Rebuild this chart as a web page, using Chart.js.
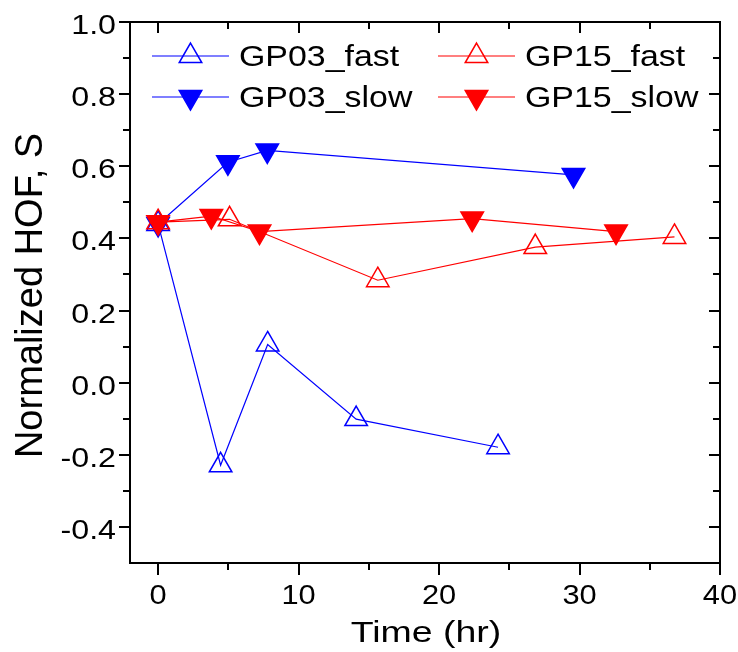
<!DOCTYPE html>
<html>
<head>
<meta charset="utf-8">
<script src="https://cdn.jsdelivr.net/npm/chart.js@4"></script>
<style>
  html, body { margin: 0; padding: 0; background: #fff; }
  #wrap { width: 738px; height: 652px; }
</style>
</head>
<body>
<div id="wrap"><canvas id="hof-chart" width="738" height="652"></canvas></div>
<script>
// time (hr) and normalized HOF for each run
var gp03FastT = [0, 4.45, 7.8, 14.1, 24.2];
var gp03FastS = [0.44, -0.229, 0.106, -0.101, -0.179];
var gp03SlowT = [0, 4.97, 7.77, 29.57];
var gp03SlowS = [0.44, 0.611, 0.644, 0.576];
var gp15FastT = [0, 5.09, 15.64, 26.85, 36.76];
var gp15FastS = [0.445, 0.453, 0.284, 0.376, 0.404];
var gp15SlowT = [0, 3.79, 7.22, 22.36, 32.6];
var gp15SlowS = [0.445, 0.462, 0.419, 0.455, 0.419];

var xTicks = [0, 10, 20, 30, 40];
var xMinor = [5, 15, 25, 35];
var yTicks = [-0.4, -0.2, 0.0, 0.2, 0.4, 0.6, 0.8, 1.0];
var yMinor = [-0.3, -0.1, 0.1, 0.3, 0.5, 0.7, 0.9];

var BLUE = '#0000ff';
var RED = '#ff0000';
var FONT = '"Liberation Sans", Arial, sans-serif';

function pts(xs, ys) {
  return xs.map(function (x, i) { return { x: x, y: ys[i] }; });
}

// order: lower number is painted later, so the red runs sit on top
function series(label, xs, ys, color, filled, order) {
  return {
    label: label,
    data: pts(xs, ys),
    order: order,
    borderColor: color,
    borderWidth: 1.2,
    pointStyle: 'triangle',
    pointRadius: 13,
    pointHoverRadius: 13,
    pointBorderWidth: 1.5,
    pointBorderColor: color,
    pointBackgroundColor: filled ? color : 'rgba(0,0,0,0)',
    pointRotation: filled ? 180 : 0,
    tension: 0,
    fill: false
  };
}

// text stretched horizontally by sx
function drawText(ctx, str, x, y, size, align, sx) {
  ctx.save();
  ctx.translate(x, y);
  ctx.scale(sx, 1);
  ctx.font = size + 'px ' + FONT;
  ctx.textAlign = align;
  ctx.textBaseline = 'alphabetic';
  ctx.fillStyle = '#000';
  ctx.fillText(str, 0, 0);
  ctx.restore();
}

var frameAndLegend = {
  id: 'frameAndLegend',
  afterDraw: function (chart) {
    var ctx = chart.ctx;
    var a = chart.chartArea;
    var xs = chart.scales.x, ys = chart.scales.y;

    ctx.save();
    ctx.strokeStyle = '#000';
    ctx.lineWidth = 2;
    ctx.strokeRect(a.left, a.top, a.right - a.left, a.bottom - a.top);

    ctx.beginPath();
    // bottom/left ticks point out, top/right ticks point in
    xTicks.forEach(function (v) {
      var px = Math.round(xs.getPixelForValue(v));
      ctx.moveTo(px, a.bottom); ctx.lineTo(px, a.bottom + 12);
      ctx.moveTo(px, a.top); ctx.lineTo(px, a.top + 11);
    });
    xMinor.forEach(function (v) {
      var px = Math.round(xs.getPixelForValue(v));
      ctx.moveTo(px, a.bottom); ctx.lineTo(px, a.bottom + 7);
      ctx.moveTo(px, a.top); ctx.lineTo(px, a.top + 7);
    });
    yTicks.forEach(function (v) {
      var py = Math.round(ys.getPixelForValue(v));
      ctx.moveTo(a.left, py); ctx.lineTo(a.left - 11, py);
      ctx.moveTo(a.right, py); ctx.lineTo(a.right - 11, py);
    });
    yMinor.forEach(function (v) {
      var py = Math.round(ys.getPixelForValue(v));
      ctx.moveTo(a.left, py); ctx.lineTo(a.left - 7, py);
      ctx.moveTo(a.right, py); ctx.lineTo(a.right - 7, py);
    });
    ctx.stroke();
    ctx.restore();

    // tick labels
    xTicks.forEach(function (v) {
      drawText(ctx, String(v), xs.getPixelForValue(v), 604, 28, 'center', 1.1);
    });
    yTicks.forEach(function (v) {
      drawText(ctx, v.toFixed(1), a.left - 14, ys.getPixelForValue(v) + 12, 28, 'right', 1.15);
    });

    // axis titles
    drawText(ctx, 'Time (hr)', (a.left + a.right) / 2 + 1, 642, 30, 'center', 1.25);
    ctx.save();
    ctx.translate(42, (a.top + a.bottom) / 2 + 3);
    ctx.rotate(-Math.PI / 2);
    ctx.font = '38px ' + FONT;
    ctx.textAlign = 'center';
    ctx.fillStyle = '#000';
    ctx.fillText('Normalized HOF, S', 0, 0);
    ctx.restore();

    // legend: two columns, line with marker in the middle
    var slots = [
      { ds: 0, x: 152, y: 56 },
      { ds: 1, x: 152, y: 97 },
      { ds: 2, x: 438, y: 56 },
      { ds: 3, x: 438, y: 97 }
    ];
    slots.forEach(function (s) {
      var d = chart.data.datasets[s.ds];
      ctx.save();
      ctx.strokeStyle = d.borderColor;
      ctx.lineWidth = d.borderWidth;
      ctx.beginPath();
      ctx.moveTo(s.x, s.y); ctx.lineTo(s.x + 77, s.y);
      ctx.stroke();
      ctx.fillStyle = d.pointBackgroundColor;
      ctx.strokeStyle = d.pointBorderColor;
      ctx.lineWidth = d.pointBorderWidth;
      Chart.helpers.drawPoint(ctx, {
        pointStyle: 'triangle',
        rotation: d.pointRotation,
        radius: d.pointRadius,
        borderWidth: d.pointBorderWidth
      }, s.x + 38.5, s.y);
      ctx.restore();
      drawText(ctx, d.label, s.x + 87, s.y + 9.5, 30, 'left', 1.13);
    });
  }
};

new Chart(document.getElementById('hof-chart').getContext('2d'), {
  type: 'line',
  data: {
    datasets: [
      series('GP03_fast', gp03FastT, gp03FastS, BLUE, false, 3),
      series('GP03_slow', gp03SlowT, gp03SlowS, BLUE, true, 2),
      series('GP15_fast', gp15FastT, gp15FastS, RED, false, 1),
      series('GP15_slow', gp15SlowT, gp15SlowS, RED, true, 0)
    ]
  },
  options: {
    responsive: false,
    animation: false,
    events: [],
    layout: { padding: { left: 130, right: 18, top: 22, bottom: 89 } },
    plugins: {
      legend: { display: false },
      tooltip: { enabled: false }
    },
    scales: {
      x: { type: 'linear', min: -2, max: 40, display: false },
      y: { type: 'linear', min: -0.5, max: 1.0, display: false }
    }
  },
  plugins: [frameAndLegend]
});
</script>
</body>
</html>
